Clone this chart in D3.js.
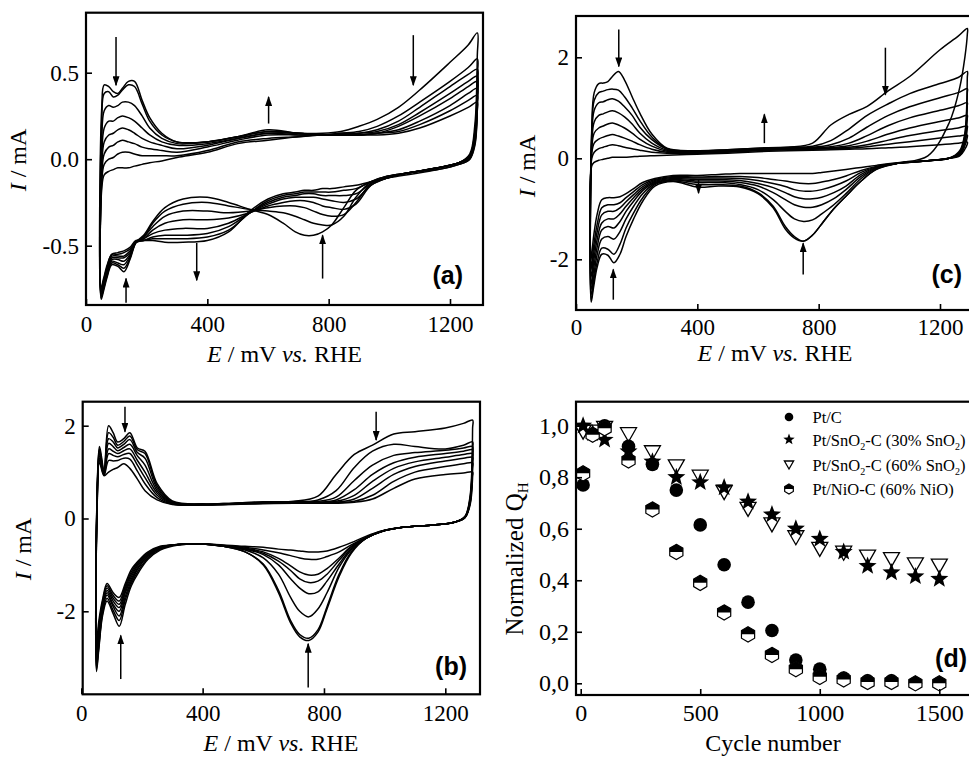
<!DOCTYPE html>
<html><head><meta charset="utf-8">
<script src="https://d3js.org/d3.v7.min.js"></script>
<style>
body{margin:0;background:#fff}
svg{display:block}
svg text{font-family:"Liberation Serif","Times New Roman",Times,serif}
svg text.tag{font-family:"Liberation Sans",Arial,Helvetica,sans-serif;font-weight:bold}
</style>
</head><body>
<svg id="c" width="969" height="757"></svg>
<script>
// ---------------- DATA ----------------
// potential grids (mV vs RHE) for forward (anodic) and backward (cathodic) sweeps
const E_anodic = [52,60,75,90,105,120,140,160,185,210,250,300,400,500,600,700,780,840,900,960,1030,1100,1200,1260,1290];
const E_cathodic = [1290,1282,1265,1230,1160,1060,990,940,890,850,810,780,750,720,690,650,600,540,470,400,320,260,220,190,165,145,125,105,85,70,58,50];

// Panel (a) currents, mA (first cycle ... last cycle)
const cvA_anodic = [
 [0.30,0.43,0.42,0.39,0.38,0.41,0.45,0.45,0.34,0.24,0.15,0.10,0.10,0.13,0.17,0.15,0.15,0.16,0.19,0.23,0.30,0.40,0.56,0.66,0.73],
 [0.22,0.38,0.39,0.36,0.37,0.40,0.43,0.42,0.32,0.22,0.14,0.10,0.10,0.13,0.16,0.15,0.14,0.15,0.16,0.19,0.25,0.33,0.45,0.53,0.58],
 [0.10,0.28,0.31,0.30,0.31,0.33,0.33,0.31,0.25,0.18,0.12,0.09,0.10,0.13,0.16,0.15,0.14,0.15,0.15,0.17,0.22,0.30,0.42,0.49,0.52],
 [0.00,0.18,0.22,0.22,0.24,0.25,0.24,0.22,0.18,0.14,0.10,0.08,0.09,0.12,0.15,0.15,0.14,0.14,0.15,0.16,0.20,0.27,0.38,0.45,0.48],
 [-0.05,0.10,0.14,0.15,0.17,0.18,0.17,0.15,0.12,0.10,0.08,0.06,0.08,0.12,0.15,0.14,0.14,0.14,0.14,0.15,0.19,0.25,0.35,0.42,0.45],
 [-0.09,0.03,0.07,0.08,0.10,0.11,0.10,0.09,0.07,0.06,0.05,0.04,0.07,0.11,0.14,0.14,0.14,0.14,0.14,0.15,0.17,0.22,0.31,0.38,0.41],
 [-0.13,-0.03,0.00,0.01,0.03,0.04,0.04,0.03,0.02,0.02,0.02,0.02,0.05,0.10,0.12,0.13,0.14,0.14,0.14,0.15,0.16,0.20,0.28,0.34,0.37],
 [-0.17,-0.09,-0.07,-0.06,-0.05,-0.05,-0.05,-0.04,-0.03,-0.02,-0.01,0.01,0.04,0.09,0.11,0.13,0.14,0.14,0.14,0.14,0.15,0.18,0.25,0.30,0.33]
];
const cvA_cathodic = [
 [0.60,0.20,0.03,-0.02,-0.05,-0.08,-0.10,-0.13,-0.18,-0.28,-0.38,-0.42,-0.44,-0.44,-0.42,-0.37,-0.32,-0.29,-0.25,-0.22,-0.23,-0.28,-0.36,-0.44,-0.48,-0.58,-0.65,-0.62,-0.61,-0.68,-0.76,-0.81],
 [0.48,0.16,0.02,-0.02,-0.05,-0.08,-0.10,-0.13,-0.22,-0.33,-0.38,-0.38,-0.37,-0.35,-0.33,-0.31,-0.30,-0.29,-0.27,-0.25,-0.26,-0.30,-0.37,-0.45,-0.48,-0.57,-0.63,-0.61,-0.60,-0.67,-0.75,-0.80],
 [0.42,0.14,0.02,-0.02,-0.05,-0.08,-0.10,-0.14,-0.25,-0.32,-0.33,-0.32,-0.30,-0.28,-0.27,-0.27,-0.28,-0.30,-0.31,-0.30,-0.30,-0.33,-0.39,-0.45,-0.48,-0.56,-0.61,-0.60,-0.59,-0.66,-0.74,-0.79],
 [0.38,0.12,0.01,-0.02,-0.05,-0.08,-0.11,-0.15,-0.26,-0.29,-0.28,-0.27,-0.25,-0.24,-0.24,-0.25,-0.27,-0.31,-0.34,-0.35,-0.35,-0.37,-0.41,-0.46,-0.48,-0.55,-0.59,-0.58,-0.58,-0.65,-0.73,-0.78],
 [0.35,0.11,0.01,-0.02,-0.05,-0.08,-0.11,-0.15,-0.23,-0.25,-0.24,-0.23,-0.22,-0.22,-0.22,-0.23,-0.26,-0.31,-0.37,-0.40,-0.40,-0.41,-0.43,-0.46,-0.48,-0.54,-0.57,-0.57,-0.57,-0.64,-0.72,-0.77],
 [0.33,0.10,0.01,-0.02,-0.05,-0.08,-0.11,-0.14,-0.20,-0.21,-0.21,-0.21,-0.20,-0.20,-0.21,-0.22,-0.25,-0.31,-0.39,-0.43,-0.44,-0.44,-0.45,-0.47,-0.48,-0.53,-0.56,-0.56,-0.56,-0.63,-0.71,-0.76],
 [0.31,0.09,0.00,-0.03,-0.06,-0.08,-0.11,-0.13,-0.17,-0.18,-0.19,-0.19,-0.19,-0.19,-0.20,-0.21,-0.24,-0.31,-0.41,-0.45,-0.46,-0.46,-0.46,-0.47,-0.48,-0.52,-0.54,-0.55,-0.55,-0.62,-0.70,-0.75],
 [0.28,0.08,0.00,-0.03,-0.06,-0.09,-0.11,-0.13,-0.15,-0.16,-0.17,-0.17,-0.18,-0.18,-0.19,-0.20,-0.23,-0.30,-0.42,-0.47,-0.48,-0.48,-0.47,-0.47,-0.47,-0.51,-0.53,-0.54,-0.55,-0.61,-0.69,-0.74]
];

// Panel (b) currents, mA
const cvB_anodic = [
 [0.50,1.55,1.05,2.00,1.85,1.65,1.72,1.85,1.52,1.45,0.75,0.38,0.31,0.33,0.36,0.37,0.48,0.95,1.38,1.58,1.82,1.87,1.95,2.05,2.12],
 [0.45,1.50,1.00,1.85,1.75,1.58,1.66,1.78,1.48,1.40,0.70,0.36,0.31,0.33,0.35,0.36,0.40,0.60,1.10,1.45,1.60,1.55,1.50,1.58,1.65],
 [0.40,1.45,0.98,1.72,1.65,1.52,1.60,1.70,1.42,1.30,0.65,0.35,0.31,0.32,0.35,0.35,0.37,0.46,0.82,1.15,1.36,1.42,1.47,1.52,1.55],
 [0.35,1.40,0.96,1.62,1.55,1.46,1.53,1.60,1.35,1.15,0.60,0.34,0.30,0.32,0.34,0.35,0.35,0.40,0.62,0.95,1.20,1.32,1.40,1.45,1.48],
 [0.30,1.35,0.95,1.50,1.45,1.40,1.46,1.50,1.25,1.00,0.55,0.33,0.30,0.32,0.34,0.34,0.34,0.37,0.50,0.80,1.08,1.22,1.32,1.38,1.40],
 [0.25,1.30,0.94,1.40,1.36,1.33,1.38,1.40,1.15,0.88,0.50,0.32,0.30,0.31,0.33,0.34,0.34,0.35,0.42,0.65,0.95,1.12,1.24,1.30,1.32],
 [0.20,1.25,0.93,1.25,1.24,1.25,1.30,1.28,1.02,0.75,0.45,0.31,0.29,0.31,0.33,0.33,0.33,0.34,0.37,0.50,0.80,1.00,1.12,1.18,1.20],
 [0.15,1.20,0.92,1.00,1.06,1.10,1.18,1.08,0.85,0.60,0.40,0.30,0.29,0.30,0.32,0.33,0.33,0.33,0.35,0.42,0.65,0.85,0.95,0.98,1.00]
];
const cvB_cathodic = [
 [1.95,0.50,0.05,-0.08,-0.14,-0.19,-0.28,-0.42,-0.75,-1.25,-1.95,-2.45,-2.63,-2.55,-2.25,-1.60,-1.00,-0.72,-0.60,-0.55,-0.57,-0.68,-0.88,-1.15,-1.45,-1.85,-2.32,-2.05,-1.78,-2.10,-2.80,-3.30],
 [1.50,0.45,0.04,-0.08,-0.14,-0.19,-0.28,-0.42,-0.72,-1.20,-1.90,-2.40,-2.58,-2.50,-2.20,-1.55,-0.98,-0.72,-0.60,-0.55,-0.56,-0.66,-0.85,-1.10,-1.40,-1.75,-2.20,-1.98,-1.72,-2.05,-2.75,-3.25],
 [1.40,0.42,0.03,-0.08,-0.14,-0.19,-0.28,-0.42,-0.68,-1.05,-1.60,-1.95,-2.12,-2.00,-1.70,-1.20,-0.85,-0.68,-0.60,-0.55,-0.56,-0.65,-0.82,-1.05,-1.35,-1.68,-2.10,-1.90,-1.65,-2.00,-2.70,-3.20],
 [1.35,0.40,0.03,-0.08,-0.14,-0.19,-0.28,-0.42,-0.65,-0.98,-1.35,-1.58,-1.62,-1.50,-1.30,-1.00,-0.78,-0.66,-0.60,-0.55,-0.56,-0.64,-0.80,-1.02,-1.30,-1.60,-2.00,-1.85,-1.60,-1.95,-2.60,-3.10],
 [1.30,0.38,0.02,-0.08,-0.14,-0.19,-0.28,-0.42,-0.62,-0.90,-1.20,-1.35,-1.38,-1.30,-1.12,-0.92,-0.75,-0.65,-0.60,-0.55,-0.56,-0.63,-0.78,-0.98,-1.25,-1.55,-1.92,-1.78,-1.55,-1.90,-2.50,-3.00],
 [1.22,0.36,0.02,-0.08,-0.14,-0.19,-0.28,-0.41,-0.60,-0.85,-1.08,-1.20,-1.22,-1.15,-1.02,-0.86,-0.72,-0.64,-0.59,-0.55,-0.56,-0.62,-0.76,-0.95,-1.20,-1.50,-1.85,-1.72,-1.50,-1.85,-2.40,-2.90],
 [1.10,0.34,0.02,-0.08,-0.14,-0.19,-0.27,-0.40,-0.57,-0.72,-0.82,-0.88,-0.88,-0.85,-0.80,-0.74,-0.68,-0.62,-0.58,-0.55,-0.56,-0.61,-0.74,-0.92,-1.15,-1.45,-1.78,-1.66,-1.45,-1.80,-2.30,-2.80],
 [0.90,0.30,0.02,-0.08,-0.14,-0.19,-0.27,-0.38,-0.52,-0.62,-0.70,-0.72,-0.72,-0.70,-0.68,-0.66,-0.62,-0.60,-0.57,-0.55,-0.56,-0.60,-0.72,-0.90,-1.10,-1.40,-1.70,-1.60,-1.40,-1.75,-2.20,-2.70]
];

// Panel (c) currents, mA
const cvC_anodic = [
 [0.60,1.30,1.48,1.49,1.52,1.62,1.72,1.55,1.22,0.90,0.48,0.20,0.15,0.17,0.20,0.22,0.30,0.66,0.87,1.03,1.34,1.62,2.15,2.42,2.57],
 [0.50,1.15,1.30,1.33,1.36,1.37,1.35,1.22,1.00,0.75,0.42,0.19,0.15,0.17,0.20,0.22,0.24,0.35,0.58,0.85,1.08,1.28,1.48,1.60,1.72],
 [0.40,0.95,1.10,1.12,1.16,1.18,1.13,1.02,0.85,0.62,0.37,0.18,0.14,0.16,0.19,0.21,0.22,0.27,0.40,0.62,0.85,1.02,1.20,1.30,1.38],
 [0.30,0.72,0.85,0.88,0.92,0.94,0.90,0.82,0.68,0.50,0.30,0.16,0.13,0.15,0.18,0.20,0.21,0.23,0.30,0.45,0.65,0.80,0.95,1.04,1.10],
 [0.20,0.50,0.60,0.64,0.68,0.70,0.66,0.60,0.50,0.38,0.24,0.14,0.12,0.14,0.17,0.19,0.20,0.21,0.25,0.34,0.48,0.60,0.73,0.80,0.85],
 [0.10,0.30,0.38,0.42,0.45,0.47,0.44,0.40,0.34,0.27,0.18,0.12,0.11,0.13,0.16,0.18,0.19,0.20,0.22,0.27,0.36,0.45,0.55,0.60,0.64],
 [0.00,0.12,0.19,0.22,0.25,0.27,0.25,0.22,0.19,0.16,0.12,0.10,0.10,0.12,0.15,0.17,0.18,0.19,0.20,0.23,0.28,0.33,0.40,0.44,0.46],
 [-0.15,-0.08,-0.04,-0.02,0.00,0.02,0.02,0.02,0.03,0.04,0.05,0.06,0.08,0.10,0.13,0.15,0.16,0.17,0.18,0.19,0.21,0.23,0.27,0.30,0.32]
];
const cvC_cathodic = [
 [2.45,2.00,1.40,0.70,0.05,-0.10,-0.22,-0.45,-0.75,-1.00,-1.30,-1.52,-1.64,-1.58,-1.40,-0.98,-0.70,-0.57,-0.55,-0.57,-0.46,-0.55,-0.85,-1.20,-1.55,-1.90,-2.07,-1.92,-1.90,-2.15,-2.55,-2.85],
 [1.60,0.50,0.15,0.00,-0.05,-0.10,-0.22,-0.45,-0.75,-1.00,-1.30,-1.52,-1.64,-1.55,-1.35,-0.95,-0.68,-0.55,-0.52,-0.52,-0.45,-0.52,-0.78,-1.08,-1.38,-1.70,-1.90,-1.80,-1.78,-2.05,-2.45,-2.80],
 [1.30,0.45,0.12,0.00,-0.05,-0.10,-0.20,-0.40,-0.70,-0.92,-1.10,-1.22,-1.25,-1.20,-1.05,-0.82,-0.62,-0.52,-0.48,-0.48,-0.43,-0.50,-0.70,-0.95,-1.20,-1.45,-1.60,-1.55,-1.60,-1.90,-2.35,-2.70],
 [1.05,0.40,0.10,0.00,-0.05,-0.10,-0.19,-0.36,-0.62,-0.80,-0.92,-0.97,-0.97,-0.92,-0.82,-0.68,-0.55,-0.48,-0.45,-0.45,-0.42,-0.48,-0.64,-0.85,-1.05,-1.25,-1.38,-1.35,-1.42,-1.75,-2.20,-2.60],
 [0.80,0.35,0.08,0.00,-0.05,-0.10,-0.18,-0.32,-0.55,-0.68,-0.77,-0.80,-0.80,-0.76,-0.68,-0.58,-0.50,-0.44,-0.42,-0.42,-0.40,-0.46,-0.60,-0.78,-0.95,-1.10,-1.20,-1.20,-1.28,-1.60,-2.05,-2.50],
 [0.60,0.30,0.07,0.00,-0.05,-0.10,-0.17,-0.28,-0.45,-0.55,-0.62,-0.65,-0.65,-0.62,-0.56,-0.50,-0.44,-0.40,-0.39,-0.39,-0.38,-0.44,-0.56,-0.72,-0.86,-0.98,-1.05,-1.05,-1.12,-1.45,-1.90,-2.35],
 [0.42,0.25,0.06,0.00,-0.05,-0.10,-0.16,-0.24,-0.35,-0.42,-0.47,-0.50,-0.50,-0.48,-0.45,-0.42,-0.38,-0.36,-0.36,-0.37,-0.36,-0.42,-0.52,-0.66,-0.78,-0.88,-0.92,-0.92,-0.98,-1.30,-1.75,-2.20],
 [0.28,0.18,0.05,0.00,-0.05,-0.09,-0.14,-0.18,-0.22,-0.25,-0.28,-0.30,-0.30,-0.30,-0.30,-0.30,-0.30,-0.30,-0.32,-0.34,-0.34,-0.40,-0.48,-0.60,-0.70,-0.76,-0.78,-0.78,-0.82,-1.10,-1.55,-2.00]
];

// arrows: [E, I_from, I_to]
const arrowsA = [[99,0.707,0.428],[1079,0.717,0.428],[602,0.206,0.36],[365,-0.484,-0.70],[132,-0.83,-0.69],[780,-0.69,-0.44]];
const arrowsB = [[144,2.41,1.87],[972,2.30,1.69],[130,-3.46,-2.52],[748,-3.64,-2.70]];
const arrowsC = [[141,2.55,1.82],[1020,2.19,1.26],[621,0.30,0.87],[404,-0.42,-0.69],[123,-2.80,-2.20],[749,-2.30,-1.68]];

// Panel (d)
const cycles = [10,50,100,200,300,400,500,600,700,800,900,1000,1100,1200,1300,1400,1500];
const qPtC      = [0.77,0.965,1.00,0.92,0.85,0.75,0.615,0.46,0.315,0.205,0.09,0.055,0.02,0.01,0.01,0.0,0.0];
const qSnO2_30  = [1.00,0.97,0.945,0.90,0.86,0.80,0.78,0.76,0.705,0.655,0.60,0.56,0.51,0.455,0.43,0.415,0.405];
const qSnO2_60  = [0.975,0.975,0.99,0.965,0.895,0.84,0.80,0.74,0.675,0.615,0.565,0.52,0.505,0.49,0.48,0.46,0.455];
const qNiO      = [0.815,0.965,0.99,0.865,0.675,0.51,0.39,0.275,0.19,0.11,0.055,0.025,0.015,0.005,0.005,0.0,0.0];

const ticksCVx = [0,400,800,1200];
const ticksAy = [-0.5,0,0.5];
const ticksBCy = [-2,0,2];
const ticksDx = [0,500,1000,1500];
const ticksDy = [0,0.2,0.4,0.6,0.8,1.0];

// ---------------- DRAWING ----------------
const svg = d3.select('#c');
const defs = svg.append('defs');
defs.append('marker').attr('id','ah').attr('markerUnits','userSpaceOnUse')
  .attr('markerWidth',10).attr('markerHeight',7).attr('refX',9).attr('refY',3.5).attr('orient','auto')
  .append('path').attr('d','M0,0 L10,3.5 L0,7 Z').attr('fill','#000');

function panel(id, f, xs, ys, xt, yt, fmt, tickFont, xPad) {
  defs.append('clipPath').attr('id','clip'+id).append('rect')
    .attr('x',f.x0).attr('y',f.y0).attr('width',f.x1-f.x0).attr('height',f.y1-f.y0);
  const g = svg.append('g');
  const plot = g.append('g').attr('clip-path',`url(#clip${id})`);
  const ax = g.append('g').attr('transform',`translate(0,${f.y1})`)
    .call(d3.axisBottom(xs).tickValues(xt).tickSize(-6).tickSizeOuter(0).tickPadding(xPad).tickFormat(d=>String(d)));
  const ay = g.append('g').attr('transform',`translate(${f.x0},0)`)
    .call(d3.axisLeft(ys).tickValues(yt).tickSize(-6).tickSizeOuter(0).tickPadding(7).tickFormat(fmt));
  [ax,ay].forEach(a=>{
    a.select('.domain').remove();
    a.attr('font-family',null).attr('font-size',tickFont);
    a.selectAll('line').attr('stroke','#000').attr('stroke-width',1.6);
    a.selectAll('text').attr('fill','#000').style('font-size',tickFont+'px');
  });
  g.append('rect').attr('x',f.x0).attr('y',f.y0).attr('width',f.x1-f.x0).attr('height',f.y1-f.y0)
    .attr('fill','none').attr('stroke','#000').attr('stroke-width',2.2);
  return {g, plot};
}

function drawCV(plot, xs, ys, an, ca) {
  const line = d3.line().x(d=>xs(d[0])).y(d=>ys(d[1])).curve(d3.curveCatmullRomClosed.alpha(0.5));
  an.forEach((row,k)=>{
    const pts = E_anodic.map((e,i)=>[e,row[i]]).concat(E_cathodic.map((e,i)=>[e,ca[k][i]]));
    plot.append('path').attr('d',line(pts)).attr('fill','none').attr('stroke','#000')
      .attr('stroke-width',1.5).attr('stroke-linejoin','round');
  });
}
function drawArrows(g, xs, ys, arr) {
  arr.forEach(a=>{
    g.append('line').attr('x1',xs(a[0])).attr('x2',xs(a[0])).attr('y1',ys(a[1])).attr('y2',ys(a[2]))
      .attr('stroke','#000').attr('stroke-width',1.5).attr('marker-end','url(#ah)');
  });
}
function xTitle(g, cx, by) {
  const t = g.append('text').attr('x',cx).attr('y',by).attr('text-anchor','middle')
    .attr('font-size',24).attr('fill','#000');
  t.append('tspan').attr('font-style','italic').text('E');
  t.append('tspan').text(' / mV ');
  t.append('tspan').attr('font-style','italic').text('vs.');
  t.append('tspan').text(' RHE');
}
function yTitle(g, bx, cy) {
  const t = g.append('text').attr('transform',`translate(${bx},${cy}) rotate(-90)`).attr('text-anchor','middle')
    .attr('font-size',24).attr('fill','#000');
  t.append('tspan').attr('font-style','italic').text('I');
  t.append('tspan').text(' / mA');
}
function tag(g, ex, by, s) {
  g.append('text').attr('class','tag').attr('x',ex).attr('y',by).attr('text-anchor','end')
    .attr('font-size',25).attr('fill','#000').text(s);
}

// Panel (a)
{
  const f = {x0:86,y0:12.7,x1:483,y1:305};
  const xs = d3.scaleLinear().domain([0,1200]).range([86,450]);
  const ys = d3.scaleLinear().domain([-0.5,0.5]).range([245.7,72.7]);
  const p = panel('a', f, xs, ys, ticksCVx, ticksAy, d=>d.toFixed(1), 23, 11);
  drawCV(p.plot, xs, ys, cvA_anodic, cvA_cathodic);
  drawArrows(p.g, xs, ys, arrowsA);
  xTitle(p.g, 284.5, 362); yTitle(p.g, 26, 160); tag(p.g, 463, 284, '(a)');
}
// Panel (b)
{
  const f = {x0:82.7,y0:401.7,x1:480,y1:694.3};
  const xs = d3.scaleLinear().domain([0,1200]).range([81.3,445.3]);
  const ys = d3.scaleLinear().domain([-2,2]).range([611.3,425.7]);
  const p = panel('b', f, xs, ys, ticksCVx, ticksBCy, d=>String(d), 23, 10);
  drawCV(p.plot, xs, ys, cvB_anodic, cvB_cathodic);
  drawArrows(p.g, xs, ys, arrowsB);
  xTitle(p.g, 281, 751); yTitle(p.g, 31, 549); tag(p.g, 467, 675, '(b)');
}
// Panel (c)
{
  const f = {x0:576,y0:16,x1:975,y1:310};
  const xs = d3.scaleLinear().domain([0,1200]).range([576,940]);
  const ys = d3.scaleLinear().domain([-2,2]).range([259.3,57.3]);
  const p = panel('c', f, xs, ys, ticksCVx, ticksBCy, d=>String(d), 23, 9);
  drawCV(p.plot, xs, ys, cvC_anodic, cvC_cathodic);
  drawArrows(p.g, xs, ys, arrowsC);
  xTitle(p.g, 775, 361); yTitle(p.g, 535, 166); tag(p.g, 962, 283, '(c)');
}
// Panel (d)
{
  const f = {x0:576,y0:401.7,x1:975,y1:695};
  const xs = d3.scaleLinear().domain([0,1500]).range([580.7,939.3]);
  const ys = d3.scaleLinear().domain([0,1]).range([683.3,425.7]);
  const p = panel('d', f, xs, ys, ticksDx, ticksDy, d=>d.toFixed(1).replace('.',','), 24, 9);
  const g = p.plot;
  const hexPts = r => d3.range(6).map(i=>{const a=(-90+60*i)*Math.PI/180;return [r*Math.cos(a), r*Math.sin(a)];});
  const starPath = R => {const pts=[];for(let i=0;i<10;i++){const r=i%2?R*0.42:R;const a=(-90+36*i)*Math.PI/180;pts.push([r*Math.cos(a),r*Math.sin(a)]);}return 'M'+pts.join('L')+'Z';};
  const triPath = (w,h) => `M${-w/2},${-h/2}L${w/2},${-h/2}L0,${h/2}Z`;
  const hexFull = r => 'M'+hexPts(r).join('L')+'Z';
  const hexTop = r => {const c=r*Math.cos(Math.PI/6);return `M${-c},0L${-c},${-r/2}L0,${-r}L${c},${-r/2}L${c},0Z`;};
  function marker(sel, type, s) {
    if (type==='circle') sel.append('circle').attr('r',s).attr('fill','#000');
    if (type==='star') sel.append('path').attr('d',starPath(s)).attr('fill','#000');
    if (type==='tri') sel.append('path').attr('d',triPath(s*2,s*1.75)).attr('fill','none').attr('stroke','#000').attr('stroke-width',1.3);
    if (type==='hex') { sel.append('path').attr('d',hexFull(s)).attr('fill','#fff').attr('stroke','#000').attr('stroke-width',1.2);
                        sel.append('path').attr('d',hexTop(s)).attr('fill','#000'); }
  }
  const series = [[qPtC,'circle',6.8],[qSnO2_30,'star',9.5],[qSnO2_60,'tri',8],[qNiO,'hex',7.6]];
  series.forEach(([vals,type,s])=>{
    vals.forEach((v,i)=>{ const m = g.append('g').attr('transform',`translate(${xs(cycles[i])},${ys(v)})`); marker(m,type,s); });
  });
  // legend
  const leg = [['circle',4.3,'Pt/C'],['star',6,'Pt/SnO|2|-C (30% SnO|2|)'],['tri',4.6,'Pt/SnO|2|-C (60% SnO|2|)'],['hex',5,'Pt/NiO-C (60% NiO)']];
  const legY = [417,439.5,465,489];
  const legBase = [423,446,471,495];
  leg.forEach((L,i)=>{
    const m = p.g.append('g').attr('transform',`translate(789,${legY[i]})`); marker(m,L[0],L[1]);
    const t = p.g.append('text').attr('x',812.5).attr('y',legBase[i]).attr('font-size',16.5).attr('fill','#000');
    L[2].split('|').forEach((part,j)=>{
      if (j%2===1) t.append('tspan').attr('font-size',10).attr('dy',4).text(part);
      else t.append('tspan').attr('dy', j>0?-4:0).text(part);
    });
  });
  p.g.append('text').attr('x',773).attr('y',751).attr('text-anchor','middle').attr('font-size',24).attr('fill','#000').text('Cycle number');
  const ty = p.g.append('text').attr('transform','translate(523,559) rotate(-90)').attr('text-anchor','middle').attr('font-size',25).attr('fill','#000');
  ty.append('tspan').text('Normalized Q');
  ty.append('tspan').attr('font-size',15).attr('dy',5).text('H');
  tag(p.g, 967, 667, '(d)');
}
</script>
</body></html>
